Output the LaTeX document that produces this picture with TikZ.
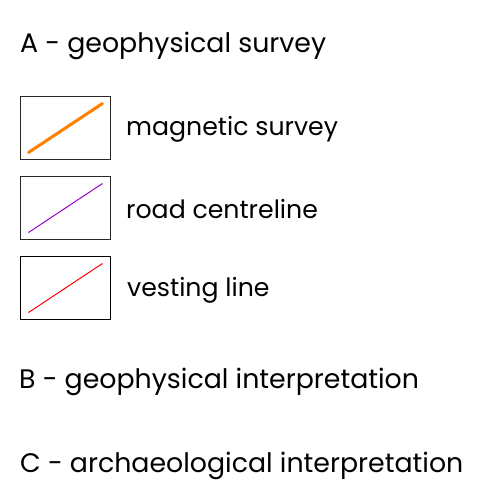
\documentclass[tikz,border=0pt]{standalone}
\usepackage{fontspec}
\setmainfont{Poppins}
\definecolor{magorange}{RGB}{255,128,0}
\definecolor{roadpurple}{RGB}{153,0,204}
\definecolor{vestred}{RGB}{255,0,0}
\definecolor{boxgrey}{RGB}{40,40,40}
\begin{document}
\begin{tikzpicture}[x=1pt,y=-1pt,
  heading/.style={anchor=base west,inner sep=0pt,font=\fontsize{26.8}{30}\selectfont},
  label/.style={anchor=base west,inner sep=0pt,font=\fontsize{25.2}{29}\selectfont},
  keybox/.style={draw=boxgrey,line width=1pt,minimum width=90pt,minimum height=63pt,anchor=north west,inner sep=0pt},
  keyline/.style={line width=1pt}]
\useasboundingbox (0,0) rectangle (499,482);
\node[heading] (A) at (20,52) {A - geophysical survey};
\node[keybox] (b1) at (20,96) {};
\node[keybox] (b2) at (20,176) {};
\node[keybox,draw=black,line width=1.4pt] (b3) at (20,256) {};
\coordinate (m1) at (28.5,152.5); \coordinate (m2) at (102.5,103.5);
\coordinate (r1) at (28.5,232.5); \coordinate (r2) at (102.5,183.5);
\coordinate (v1) at (28.5,312.5); \coordinate (v2) at (102.5,263.5);
\draw[keyline,magorange,line width=3pt,line cap=round] (m1) -- (m2);
\draw[keyline,roadpurple] (r1) -- (r2);
\draw[keyline,vestred] (v1) -- (v2);
\node[label] (l1) at (126,135) {magnetic survey};
\node[label] (l2) at (126,218) {road centreline};
\node[label] (l3) at (127,296) {vesting line};
\node[heading] (B) at (19,388) {B - geophysical interpretation};
\node[heading] (C) at (20,472) {C - archaeological interpretation};
\end{tikzpicture}
\end{document}
